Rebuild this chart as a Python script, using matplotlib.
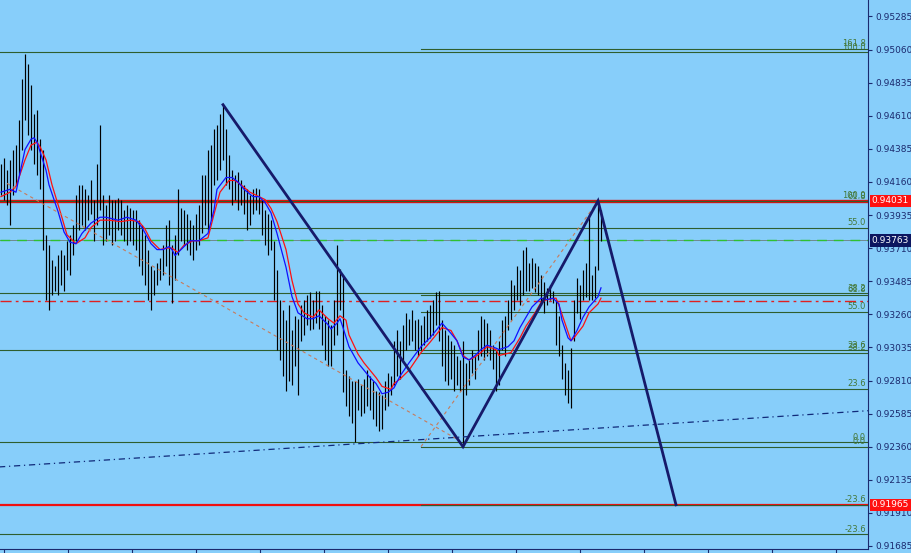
import matplotlib.pyplot as plt
import matplotlib.transforms as mtransforms

# high / low of each bar (one stick per bar)
highs = [
    0.9428, 0.9432, 0.9424, 0.9431, 0.9438, 0.9441, 0.9458, 0.9486, 0.9503, 0.9496,
    0.9482, 0.9462, 0.9465, 0.9445, 0.9438, 0.9380, 0.9373, 0.9363, 0.9359, 0.9366,
    0.9370, 0.9366, 0.9376, 0.9380, 0.9387, 0.9407, 0.9414, 0.9414, 0.9411, 0.9407,
    0.9417, 0.9404, 0.9428, 0.9455, 0.9407, 0.9400, 0.9407, 0.9404, 0.9404, 0.9405,
    0.9404, 0.9397, 0.9400, 0.9398, 0.9397, 0.9397, 0.9390, 0.9387, 0.9380, 0.9370,
    0.9359, 0.9356, 0.9361, 0.9364, 0.9373, 0.9387, 0.9390, 0.9373, 0.9380, 0.9411,
    0.9398, 0.9397, 0.9394, 0.9390, 0.9387, 0.9394, 0.9400, 0.9421, 0.9421, 0.9438,
    0.9441, 0.9452, 0.9455, 0.9462, 0.9469, 0.9452, 0.9434, 0.9424, 0.9421, 0.9423,
    0.9417, 0.9414, 0.9411, 0.9407, 0.9411, 0.9412, 0.9411, 0.9404, 0.9397, 0.9394,
    0.9390, 0.9376, 0.9356, 0.9336, 0.9329, 0.9322, 0.9332, 0.9315, 0.9325, 0.9323,
    0.9332, 0.9336, 0.9339, 0.9341, 0.9336, 0.9342, 0.9342, 0.9332, 0.9325, 0.9322,
    0.9319, 0.9336, 0.9373, 0.9357, 0.9353, 0.9288, 0.9284, 0.9281, 0.9281, 0.9282,
    0.9278, 0.9282, 0.9288, 0.9284, 0.9281, 0.9274, 0.9273, 0.9271, 0.9281, 0.9286,
    0.9284, 0.9308, 0.9315, 0.9308, 0.9319, 0.9327, 0.9323, 0.9329, 0.9322, 0.9323,
    0.9319, 0.9325, 0.9329, 0.9332, 0.9336, 0.9341, 0.9342, 0.9322, 0.9315, 0.9312,
    0.9308, 0.9305, 0.9298, 0.9295, 0.9308, 0.9293, 0.9295, 0.9302, 0.9298, 0.9315,
    0.9325, 0.9323, 0.9320, 0.9315, 0.9305, 0.9302, 0.9308, 0.9322, 0.9325, 0.9336,
    0.9349, 0.9346, 0.9359, 0.9356, 0.9370, 0.9372, 0.9361, 0.9364, 0.9361, 0.9359,
    0.9353, 0.9348, 0.9344, 0.9346, 0.9342, 0.9336, 0.9325, 0.9305, 0.9293, 0.9288,
    0.9303, 0.9336, 0.9351, 0.9346, 0.9356, 0.9361, 0.9392, 0.9353, 0.9359, 0.9403,
    0.9397,
]
lows = [
    0.9407, 0.9404, 0.9400, 0.9387, 0.9407, 0.9414, 0.9421, 0.9438, 0.9458, 0.9448,
    0.9438, 0.9428, 0.9421, 0.9411, 0.9370, 0.9336, 0.9329, 0.9339, 0.9342, 0.9339,
    0.9346, 0.9342, 0.9356, 0.9353, 0.9366, 0.9376, 0.9383, 0.9387, 0.9383, 0.9390,
    0.9394, 0.9376, 0.9387, 0.9397, 0.9373, 0.9376, 0.9380, 0.9373, 0.9376, 0.9383,
    0.9380, 0.9376, 0.9373, 0.9376, 0.9373, 0.9370, 0.9359, 0.9353, 0.9346, 0.9336,
    0.9329, 0.9339, 0.9346, 0.9349, 0.9353, 0.9359, 0.9346, 0.9334, 0.9349, 0.9366,
    0.9376, 0.9373, 0.9370, 0.9366, 0.9363, 0.9370, 0.9373, 0.9381, 0.9387, 0.9383,
    0.9390, 0.9414, 0.9417, 0.9424, 0.9431, 0.9414, 0.9411, 0.9400, 0.9404, 0.9397,
    0.9400, 0.9394, 0.9383, 0.9387, 0.9394, 0.9397, 0.9394, 0.9380, 0.9373, 0.9366,
    0.9370, 0.9336, 0.9302, 0.9295, 0.9284, 0.9274, 0.9281, 0.9278, 0.9291, 0.9271,
    0.9308, 0.9312, 0.9319, 0.9315, 0.9316, 0.9320, 0.9316, 0.9305, 0.9295, 0.9291,
    0.9291, 0.9305, 0.9312, 0.9329, 0.9273, 0.9264, 0.9257, 0.9252, 0.9239, 0.9261,
    0.9257, 0.9259, 0.9264, 0.9261, 0.9255, 0.9250, 0.9247, 0.9248, 0.9261, 0.9264,
    0.9271, 0.9278, 0.9284, 0.9282, 0.9295, 0.9302, 0.9305, 0.9308, 0.9302, 0.9298,
    0.9302, 0.9305, 0.9308, 0.9310, 0.9312, 0.9319, 0.9308, 0.9291, 0.9281, 0.9278,
    0.9282, 0.9274, 0.9278, 0.9274, 0.9236, 0.9271, 0.9278, 0.9286, 0.9282, 0.9295,
    0.9298, 0.9295, 0.9298, 0.9295, 0.9289, 0.9274, 0.9278, 0.9302, 0.9298, 0.9315,
    0.9322, 0.9329, 0.9336, 0.9332, 0.9339, 0.9342, 0.9342, 0.9344, 0.9341, 0.9339,
    0.9332, 0.9327, 0.9332, 0.9336, 0.9334, 0.9305, 0.9298, 0.9282, 0.9271, 0.9266,
    0.9262, 0.9308, 0.9327, 0.9323, 0.9336, 0.9338, 0.9336, 0.9336, 0.9337, 0.9356,
    0.9376,
]

# moving averages (bar index, price)
ma_fast_idx = [0, 3, 5, 6, 8, 10, 11, 12, 15, 16, 19, 21, 23, 25, 27, 30, 33, 35, 39, 42,
               45, 47, 50, 52, 54, 56, 57, 58, 61, 63, 66, 69, 71, 72, 75, 77, 79, 81, 84, 86,
               88, 90, 92, 95, 97, 99, 102, 104, 106, 109, 110, 112, 113, 114, 116, 119, 121, 123, 125, 127,
               129, 131, 133, 136, 140, 143, 145, 147, 150, 152, 154, 156, 158, 160, 162, 165, 166, 169, 171, 173,
               175, 177, 180, 182, 184, 186, 187, 189, 190, 192, 194, 196, 199, 200]
ma_fast = [0.9409, 0.9411, 0.9409, 0.9419, 0.9438, 0.9445, 0.9446, 0.9443, 0.9424, 0.9414,
           0.9396, 0.9382, 0.9375, 0.9374, 0.9381, 0.9388, 0.9392, 0.9392, 0.9390, 0.9392,
           0.9390, 0.9385, 0.9374, 0.9370, 0.9370, 0.9372, 0.9370, 0.9366, 0.9372, 0.9376,
           0.9376, 0.9381, 0.9397, 0.9411, 0.9419, 0.9419, 0.9416, 0.9411, 0.9406, 0.9406,
           0.9402, 0.9395, 0.9381, 0.9358, 0.9338, 0.9327, 0.9323, 0.9323, 0.9325, 0.9319,
           0.9316, 0.9320, 0.9323, 0.9317, 0.9304, 0.9293, 0.9288, 0.9283, 0.9279, 0.9272,
           0.9273, 0.9276, 0.9284, 0.9293, 0.9304, 0.9310, 0.9315, 0.9320, 0.9313, 0.9308,
           0.9297, 0.9295, 0.9298, 0.9302, 0.9305, 0.9303, 0.9302, 0.9304, 0.9308, 0.9317,
           0.9324, 0.9331, 0.9337, 0.9336, 0.9337, 0.9333, 0.9322, 0.9310, 0.9308, 0.9315,
           0.9324, 0.9331, 0.9338, 0.9344]
ma_slow_idx = [0, 3, 5, 8, 10, 12, 13, 15, 17, 20, 22, 25, 28, 30, 33, 36, 40, 43, 46, 48,
               50, 53, 55, 57, 59, 61, 64, 66, 69, 71, 73, 76, 78, 80, 83, 86, 88, 90, 92, 95,
               97, 99, 101, 104, 106, 109, 111, 113, 115, 116, 119, 121, 123, 125, 127, 130, 131, 133, 136, 140,
               143, 145, 147, 150, 152, 154, 156, 158, 160, 162, 165, 166, 170, 173, 175, 178, 180, 182, 185, 186,
               188, 190, 191, 194, 196, 199, 200]
ma_slow = [0.9406, 0.9409, 0.9413, 0.9431, 0.9441, 0.9443, 0.9440, 0.9431, 0.9414, 0.9394,
           0.9380, 0.9374, 0.9378, 0.9385, 0.9390, 0.9390, 0.9389, 0.9390, 0.9389, 0.9384,
           0.9376, 0.9370, 0.9371, 0.9371, 0.9368, 0.9373, 0.9376, 0.9376, 0.9378, 0.9394,
           0.9409, 0.9417, 0.9417, 0.9414, 0.9409, 0.9406, 0.9404, 0.9398, 0.9389, 0.9370,
           0.9349, 0.9333, 0.9327, 0.9324, 0.9329, 0.9323, 0.9320, 0.9325, 0.9322, 0.9312,
           0.9299, 0.9293, 0.9288, 0.9283, 0.9277, 0.9275, 0.9279, 0.9282, 0.9288, 0.9300,
           0.9307, 0.9312, 0.9317, 0.9315, 0.9308, 0.9298, 0.9295, 0.9297, 0.9300, 0.9304,
           0.9302, 0.9298, 0.9300, 0.9310, 0.9318, 0.9327, 0.9334, 0.9336, 0.9337, 0.9332,
           0.9320, 0.9308, 0.9310, 0.9318, 0.9327, 0.9333, 0.9337]

price_ticks = [0.91685, 0.91910, 0.92135, 0.92360, 0.92585, 0.92810, 0.93035, 0.93260, 0.93485,
               0.93710, 0.93935, 0.94160, 0.94385, 0.94610, 0.94835, 0.95060, 0.95285]

# fibonacci retracements: (first bar or None for full width, low, high)
fib_levels = [-23.6, 0.0, 23.6, 38.2, 55.0, 61.8, 100.0, 161.8]
fib_sets = [(None, 0.92390, 0.95040), (140, 0.92360, 0.94031)]

# zigzag pattern drawn on the chart
zigzag_idx = [74, 154, 199, 225]
zigzag_px = [0.94685, 0.92360, 0.94031, 0.91965]

# other drawn lines
support_idx = [-1, 290]
support_px = [0.92222, 0.92606]
diag_a_idx = [2, 153]
diag_a_px = [0.9415, 0.9240]
diag_b_idx = [140, 199]
diag_b_px = [0.9236, 0.9403]

upper_red = 0.94031
lower_red = 0.91965
bid_price = 0.93763
dashdot_red = 0.93352

BG = "#87cefa"
NAVY = "#1b2a6e"
FIB_LINE = "#2e5e2e"
FIB_TEXT = "#44783a"

fig = plt.figure(figsize=(9.11, 5.53), dpi=100, facecolor=BG)
ax = fig.add_axes([0, 4 / 553, 868 / 911, 549 / 553], facecolor=BG)
ax.set_xlim(-1 / 3, 289)
y_lo, y_hi = 0.916646, 0.953967
ax.set_ylim(y_lo, y_hi)
x_right = 289

# horizontal price lines
ax.axhline(upper_red, color="#e01010", lw=2.4, zorder=2)
ax.axhline(lower_red, color="#f01010", lw=1.6, zorder=2)
ax.axhline(bid_price, color="#708890", lw=0.7, zorder=2)
ax.axhline(bid_price, color="#30c030", lw=1.0, ls=(0, (7, 5)), zorder=2)
ax.axhline(dashdot_red, color="#e02020", lw=1.0, ls=(0, (8, 3, 2, 3)), zorder=2)

# fibonacci lines and labels
for start, lo, hi in fib_sets:
    x0 = -1 if start is None else start
    for lev in fib_levels:
        p = lo + (hi - lo) * lev / 100.0
        if p > y_hi:
            continue
        ax.plot([x0, x_right], [p, p], color=FIB_LINE, lw=0.8, zorder=3)
        ax.text(288.3, p + 0.00004, "%.1f" % lev, color=FIB_TEXT, fontsize=6,
                ha="right", va="bottom", zorder=3)

# bars
idx = list(range(len(highs)))
ax.vlines(idx, lows, highs, color="black", lw=0.85, zorder=4)

# moving averages
ax.plot(ma_slow_idx, ma_slow, color="#ff1010", lw=0.9, zorder=5)
ax.plot(ma_fast_idx, ma_fast, color="#1010ff", lw=0.9, zorder=5)

# trend lines
ax.plot(support_idx, support_px, color="#102a7a", lw=0.9, ls=(0, (5, 3, 1, 3)), zorder=5)
ax.plot(diag_a_idx, diag_a_px, color="#c87a5a", lw=0.8, ls=(0, (3, 3)), zorder=5)
ax.plot(diag_b_idx, diag_b_px, color="#c87a5a", lw=0.8, ls=(0, (3, 3)), zorder=5)
ax.plot(zigzag_idx, zigzag_px, color="#161a6a", lw=2.0, zorder=6, solid_joinstyle="miter")

# axes styling
for side in ["top", "left"]:
    ax.spines[side].set_visible(False)
ax.spines["right"].set_color(NAVY)
ax.spines["bottom"].set_color(NAVY)
ax.yaxis.tick_right()
ax.set_yticks(price_ticks)
ax.set_yticklabels(["%.5f" % t for t in price_ticks])
ax.tick_params(axis="y", colors=NAVY, labelsize=6.5, length=3, pad=2)
ax.set_xticks([1 + 64 / 3 * k for k in range(14)])
ax.tick_params(axis="x", colors=NAVY, length=3, labelbottom=False)

# price tags on the right axis
trans = mtransforms.blended_transform_factory(ax.transAxes, ax.transData)
for price, face in [(upper_red, "#ff1010"), (lower_red, "#ff1010"), (bid_price, "#0c1660")]:
    ax.text(1.004, price, "%.5f" % price, transform=trans, color="white", fontsize=6.5,
            ha="left", va="center", clip_on=False, zorder=10,
            bbox=dict(boxstyle="square,pad=0.2", fc=face, ec="none"))

fig.savefig("out.png", dpi=100, facecolor=BG)
